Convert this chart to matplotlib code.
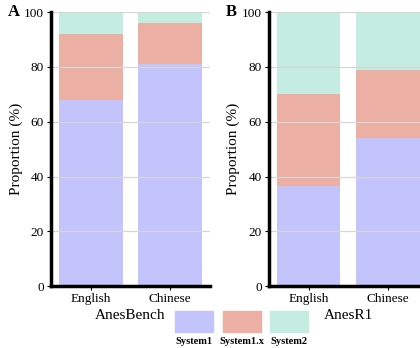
import matplotlib.pyplot as plt
from matplotlib.patches import Rectangle

plt.rcParams['font.family'] = ['Liberation Serif', 'DejaVu Serif']

languages = ['English', 'Chinese']
bench_system1 = [68, 81]
bench_system1x = [24, 15]
bench_system2 = [8, 4]
r1_system1 = [36.5, 54]
r1_system1x = [33.5, 25]
r1_system2 = [30, 21]

series_names = ['System1', 'System1.x', 'System2']
colors = ['#c3c4fb', '#ebafa4', '#c4ece0']

fig = plt.figure(figsize=(4.2, 3.48), dpi=100)

def draw_panel(rect, s1, s1x, s2, xlabel, letter):
    ax = fig.add_axes(rect)
    x = range(len(languages))
    bottom2 = [a + b for a, b in zip(s1, s1x)]
    ax.bar(x, s1, width=0.8, color=colors[0], zorder=2)
    ax.bar(x, s1x, width=0.8, bottom=s1, color=colors[1], zorder=2)
    ax.bar(x, s2, width=0.8, bottom=bottom2, color=colors[2], zorder=2)
    ax.set_xlim(-0.5, 1.5)
    ax.set_ylim(0, 100)
    ax.set_yticks([0, 20, 40, 60, 80, 100])
    ax.set_xticks(list(x))
    ax.set_xticklabels(languages)
    ax.grid(axis='y', color='#d6d6d6', linewidth=0.9, zorder=3)
    ax.set_axisbelow(False)
    for side in ['top', 'right']:
        ax.spines[side].set_visible(False)
    for side in ['left', 'bottom']:
        ax.spines[side].set_linewidth(2.5)
        ax.spines[side].set_zorder(4)
    ax.tick_params(labelsize=9.5, length=3, width=0.8, pad=2)
    ax.set_ylabel('Proportion (%)', fontsize=11, labelpad=1)
    ax.set_xlabel(xlabel, fontsize=11, labelpad=3)
    ax.text(-0.27, 1.0, letter, transform=ax.transAxes, fontsize=12,
            fontweight='bold', va='center', ha='left')
    return ax

draw_panel([0.1214, 0.178, 0.3786, 0.787], bench_system1, bench_system1x,
           bench_system2, 'AnesBench', 'A')
draw_panel([0.640, 0.178, 0.3786, 0.787], r1_system1, r1_system1x,
           r1_system2, 'AnesR1', 'B')

# legend: coloured boxes with bold names underneath
W, H = 420, 348
for i, (name, c) in enumerate(zip(series_names, colors)):
    x0 = 175 + i * 47.5
    fig.patches.append(Rectangle((x0 / W, (H - 332) / H), 38 / W, 21 / H,
                                 transform=fig.transFigure, color=c))
    fig.text((x0 + 19) / W, (H - 341) / H, name, ha='center', va='center',
             fontsize=7.5, fontweight='bold')

fig.savefig('out.png', dpi=100)
